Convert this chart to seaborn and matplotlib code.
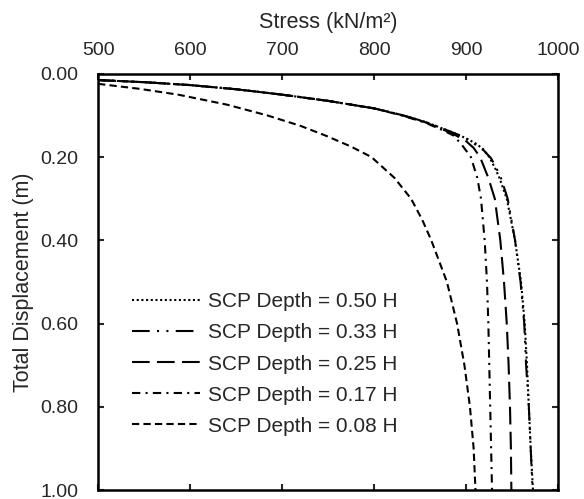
import matplotlib
matplotlib.use("Agg")
import pandas as pd
import matplotlib.pyplot as plt
import seaborn as sns

# values
labels = ["SCP Depth = 0.50 H", "SCP Depth = 0.33 H", "SCP Depth = 0.25 H",
          "SCP Depth = 0.17 H", "SCP Depth = 0.08 H"]

stress_050 = [500, 550, 600, 650, 700, 750, 800, 830, 855, 875, 890, 900, 910, 918, 925, 931, 936, 944, 953, 959.5, 963.5, 966, 968, 970, 972.5]
disp_050 = [0.015, 0.020, 0.027, 0.037, 0.050, 0.065, 0.083, 0.099, 0.115, 0.132, 0.145, 0.155, 0.167, 0.180, 0.200, 0.225, 0.250, 0.300, 0.400, 0.500, 0.600, 0.700, 0.800, 0.900, 1.000]

stress_033 = [500, 550, 600, 650, 700, 750, 800, 830, 855, 875, 890, 900, 910, 919, 927, 933, 938, 945, 953, 959, 963, 965, 968, 970, 972]
disp_033 = [0.015, 0.020, 0.027, 0.037, 0.050, 0.065, 0.083, 0.099, 0.115, 0.132, 0.145, 0.156, 0.170, 0.184, 0.203, 0.228, 0.252, 0.300, 0.400, 0.500, 0.600, 0.700, 0.800, 0.900, 1.000]

stress_025 = [500, 550, 600, 650, 700, 750, 800, 830, 855, 875, 888, 900, 908, 915, 924, 931, 937, 941, 944, 946, 947.5, 948.5, 949]
disp_025 = [0.015, 0.020, 0.027, 0.037, 0.050, 0.065, 0.083, 0.099, 0.116, 0.134, 0.147, 0.162, 0.178, 0.200, 0.250, 0.300, 0.400, 0.500, 0.600, 0.700, 0.800, 0.900, 1.000]

stress_017 = [500, 550, 600, 650, 700, 750, 800, 830, 855, 875, 886, 895, 905, 912, 916, 920, 922.5, 924, 925, 926, 927, 928]
disp_017 = [0.015, 0.020, 0.027, 0.037, 0.050, 0.065, 0.083, 0.100, 0.117, 0.136, 0.148, 0.170, 0.200, 0.250, 0.300, 0.400, 0.500, 0.600, 0.700, 0.800, 0.900, 1.000]

stress_008 = [500, 545, 587, 640, 684, 720, 749, 775, 797, 822, 840, 852, 862, 879, 890, 898, 904, 908, 910]
disp_008 = [0.024, 0.036, 0.050, 0.074, 0.100, 0.125, 0.150, 0.175, 0.200, 0.250, 0.300, 0.350, 0.400, 0.500, 0.600, 0.700, 0.800, 0.900, 1.000]

dash_styles = {
    labels[0]: (1, 1.25),
    labels[1]: (8.5, 3.5, 1, 3.5, 1, 3.5),
    labels[2]: (8.5, 3.5),
    labels[3]: (4, 2.5, 1, 2.5),
    labels[4]: (3.5, 2),
}

frames = []
for lab, s, d in zip(labels,
                     [stress_050, stress_033, stress_025, stress_017, stress_008],
                     [disp_050, disp_033, disp_025, disp_017, disp_008]):
    frames.append(pd.DataFrame({"Stress": s, "Displacement": d, "Depth": lab}))
df = pd.concat(frames, ignore_index=True)

sns.set_style("ticks")
plt.rcParams["font.family"] = ["Liberation Sans", "DejaVu Sans"]

fig = plt.figure(figsize=(5.84, 4.99), dpi=100)
ax = fig.add_axes([0.168, 0.018, 0.788, 0.834])

sns.lineplot(data=df, x="Stress", y="Displacement", hue="Depth", style="Depth",
             hue_order=labels, style_order=labels, palette=["black"] * 5,
             dashes=dash_styles, sort=False, estimator=None, linewidth=1.5, ax=ax)

ax.set_xlim(500, 1000)
ax.set_ylim(1.0, 0.0)
ax.set_xticks([500, 600, 700, 800, 900, 1000])
ax.set_yticks([0.0, 0.2, 0.4, 0.6, 0.8, 1.0])
ax.yaxis.set_major_formatter(matplotlib.ticker.FormatStrFormatter("%.2f"))

ax.xaxis.set_label_position("top")
ax.tick_params(axis="x", top=True, bottom=True, labeltop=True, labelbottom=False,
               direction="in", length=4, width=1.5, pad=10.5, labelsize=14)
ax.tick_params(axis="y", left=True, right=True, direction="in", length=4, width=1.5,
               pad=14, labelsize=14)
for sp in ax.spines.values():
    sp.set_visible(True)
    sp.set_linewidth(1.8)
    sp.set_color("black")

ax.set_xlabel("Stress (kN/m²)", fontsize=15.5, labelpad=10)
ax.set_ylabel("Total Displacement (m)", fontsize=15.5, labelpad=5)

ax.legend(loc="upper left", bbox_to_anchor=(0.055, 0.495), frameon=False,
          fontsize=15, handlelength=3.27, handletextpad=0.38, labelspacing=0.58,
          borderaxespad=0)

fig.savefig("out.png", dpi=100)
